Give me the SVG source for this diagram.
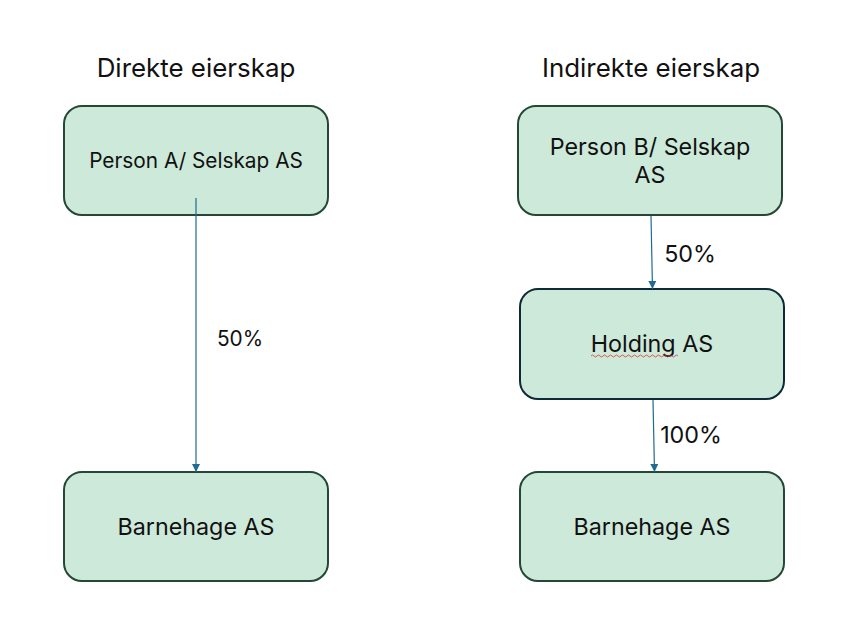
<svg xmlns="http://www.w3.org/2000/svg" width="854" height="622" viewBox="0 0 854 622">
<style>
.box{fill:#cde9d9;stroke:#254736;stroke-width:2}
.box2{fill:#cde9d9;stroke:#0e2a38;stroke-width:2}
.t{font-family:Inter,"Noto Sans",sans-serif;font-size:23.3px;fill:#111;text-anchor:middle}
.s{font-size:20.8px}
.h{font-family:Inter,"Noto Sans",sans-serif;font-size:25.9px;fill:#111;text-anchor:middle}
.c{stroke:#1f6b94;stroke-width:1.2;fill:none;marker-end:url(#a)}
</style>
<defs>
<marker id="a" viewBox="0 0 10 10" refX="10" refY="5" markerWidth="8" markerHeight="8" markerUnits="userSpaceOnUse" orient="auto">
<path d="M0,0 L10,5 L0,10 z" fill="#1f6b94"/>
</marker>
</defs>
<rect width="854" height="622" fill="#fff"/>
<text class="h" x="196" y="77">Direkte eierskap</text>
<text class="h" x="651" y="77">Indirekte eierskap</text>
<g id="personA">
<rect class="box" x="64" y="106" width="264" height="109" rx="18"/>
<text class="t s" x="196" y="168">Person A/ Selskap AS</text>
</g>
<g id="barnehageL">
<rect class="box" x="64" y="472" width="264" height="109" rx="18"/>
<text class="t" x="196" y="535">Barnehage AS</text>
</g>
<g id="personB">
<rect class="box" x="518" y="106" width="264" height="109" rx="18"/>
<text class="t" x="650" y="155">Person B/ Selskap</text>
<text class="t" x="650" y="183">AS</text>
</g>
<g id="holding">
<rect class="box2" x="520" y="289" width="264" height="110" rx="18"/>
<text class="t" x="652" y="352">Holding AS</text>
<path d="M591,356 q1.5,-2 3,0 t3,0 t3,0 t3,0 t3,0 t3,0 t3,0 t3,0 t3,0 t3,0 t3,0 t3,0 t3,0 t3,0 t3,0 t3,0 t3,0 t3,0 t3,0 t3,0 t3,0 t3,0 t3,0 t3,0 t3,0 t3,0 t3,0 t3,0 t3,0" stroke="#e03030" stroke-width="0.8" fill="none"/>
</g>
<g id="barnehageR">
<rect class="box" x="520" y="472" width="264" height="109" rx="18"/>
<text class="t" x="652" y="535">Barnehage AS</text>
</g>
<g id="connectors">
<line class="c" x1="196" y1="198" x2="196" y2="472"/>
<line class="c" x1="651" y1="216" x2="652.5" y2="289"/>
<line class="c" x1="653" y1="400" x2="654.5" y2="472"/>
<text class="t s" x="240" y="346">50%</text>
<text class="t" x="690" y="262">50%</text>
<text class="t" x="691" y="443">100%</text>
</g>
</svg>
